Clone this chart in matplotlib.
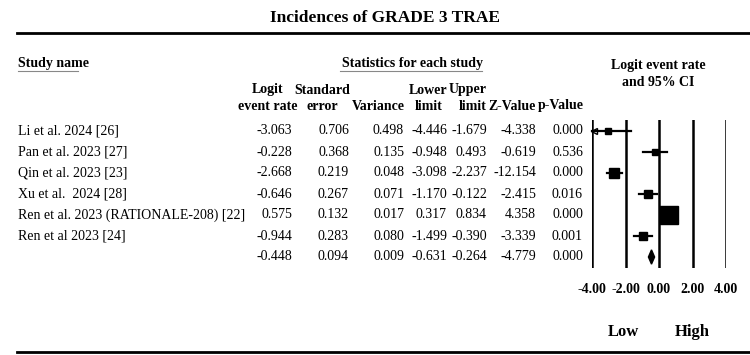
import numpy as np
import matplotlib.pyplot as plt

plt.rcParams['font.family'] = ['Liberation Serif', 'DejaVu Serif']

# ---- data ----
studies = [
    "Li et al. 2024 [26]",
    "Pan et al. 2023 [27]",
    "Qin et al. 2023 [23]",
    "Xu et al.  2024 [28]",
    "Ren et al. 2023 (RATIONALE-208) [22]",
    "Ren et al 2023 [24]",
    "",
]
logit = [-3.063, -0.228, -2.668, -0.646, 0.575, -0.944, -0.448]
std_err = [0.706, 0.368, 0.219, 0.267, 0.132, 0.283, 0.094]
variance = [0.498, 0.135, 0.048, 0.071, 0.017, 0.080, 0.009]
lower = [-4.446, -0.948, -3.098, -1.170, 0.317, -1.499, -0.631]
upper = [-1.679, 0.493, -2.237, -0.122, 0.834, -0.390, -0.264]
z_value = [-4.338, -0.619, -12.154, -2.415, 4.358, -3.339, -4.779]
p_value = [0.000, 0.536, 0.000, 0.016, 0.000, 0.001, 0.000]

x_ticks = [-4, -2, 0, 2, 4]
x_min, x_max = -4, 4

W, H = 750, 355
fig = plt.figure(figsize=(W / 100, H / 100), dpi=100)

# background axes in pixel units for the table
bg = fig.add_axes([0, 0, 1, 1])
bg.set_xlim(0, W)
bg.set_ylim(H, 0)
bg.axis('off')

row_y0, row_h = 131, 21
fs = 10

# title and rules
bg.text(385, 18, "Incidences of GRADE 3 TRAE", fontsize=12.5, fontweight='bold',
        ha='center', va='center')
bg.plot([17, W], [33, 33], color='black', lw=2)
bg.plot([17, W], [352, 352], color='black', lw=2)

# group headers
bg.text(18, 64, "Study name", fontsize=fs, fontweight='bold', ha='left', va='center')
bg.plot([18, 78], [71, 71], color='#888888', lw=0.8)
bg.text(412, 64, "Statistics for each study", fontsize=fs, fontweight='bold',
        ha='center', va='center')
bg.plot([340, 482], [71, 71], color='#888888', lw=0.8)
bg.text(658, 65, "Logit event rate", fontsize=fs, fontweight='bold', ha='center', va='center')
bg.text(658, 82, "and 95% CI", fontsize=fs, fontweight='bold', ha='center', va='center')

# column headers
hdr1, hdr2 = 90, 106
bg.text(268, hdr1, "Logit", fontsize=fs, fontweight='bold', ha='center', va='center')
bg.text(268, hdr2, "event rate", fontsize=fs, fontweight='bold', ha='center', va='center')
bg.text(322, hdr1, "Standard", fontsize=fs, fontweight='bold', ha='center', va='center')
bg.text(322, hdr2, "error", fontsize=fs, fontweight='bold', ha='center', va='center')
bg.text(405, hdr2, "Variance", fontsize=fs, fontweight='bold', ha='right', va='center')
bg.text(447, hdr1, "Lower", fontsize=fs, fontweight='bold', ha='right', va='center')
bg.text(443, hdr2, "limit", fontsize=fs, fontweight='bold', ha='right', va='center')
bg.text(487, hdr1, "Upper", fontsize=fs, fontweight='bold', ha='right', va='center')
bg.text(487, hdr2, "limit", fontsize=fs, fontweight='bold', ha='right', va='center')
bg.text(536, hdr2, "Z-Value", fontsize=fs, fontweight='bold', ha='right', va='center')
bg.text(584, hdr2, "p-Value", fontsize=fs, fontweight='bold', ha='right', va='center')

# table body
col_right = [292, 349, 404, 447, 487, 536, 583]
for i, name in enumerate(studies):
    y = row_y0 + i * row_h
    bg.text(18, y, name, fontsize=fs, ha='left', va='center')
    vals = [logit[i], std_err[i], variance[i], lower[i], upper[i], z_value[i], p_value[i]]
    for xr, v in zip(col_right, vals):
        bg.text(xr, y, f"{v:.3f}", fontsize=fs, ha='right', va='center')

# ---- forest plot ----
px_left, px_right = 592, 726
ax_top, ax_bot = 120, 268
ax = fig.add_axes([px_left / W, 1 - ax_bot / H, (px_right - px_left) / W, (ax_bot - ax_top) / H])
n = len(studies)
ax.set_xlim(x_min, x_max)
ax.set_ylim((ax_bot - row_y0) / row_h, (ax_top - row_y0) / row_h)
ax.patch.set_alpha(0)
for s in ax.spines.values():
    s.set_visible(False)
for t in x_ticks:
    ax.axvline(t, color='black', lw=1.8)
ax.set_xticks(x_ticks)
ax.set_xticklabels([f"{t:.2f}" for t in x_ticks], fontsize=fs, fontweight='bold')
ax.tick_params(axis='x', length=0, pad=11)
ax.set_yticks([])

weights = 1 / np.array(variance[:-1])
sides = 2.3 * np.sqrt(weights)  # box side in px
for i in range(n - 1):
    lo = max(lower[i], x_min)
    hi = min(upper[i], x_max)
    ax.plot([lo, hi], [i, i], color='black', lw=1.6, clip_on=False, zorder=3)
    if lower[i] < x_min:
        ax.plot(x_min + 0.12, i, marker='<', markersize=5, color='black',
                markerfacecolor='none', clip_on=False, zorder=3)
    ax.plot(logit[i], i, marker='s', markersize=max(sides[i], 6) * 0.72,
            color='black', clip_on=False, zorder=4)

# summary diamond
i = n - 1
ax.fill([lower[i], logit[i], upper[i], logit[i]], [i, i - 0.34, i, i + 0.34],
        color='black', zorder=4)

bg.text(623, 332, "Low", fontsize=12, fontweight='bold', ha='center', va='center')
bg.text(692, 332, "High", fontsize=12, fontweight='bold', ha='center', va='center')

fig.savefig("out.png", dpi=100)
